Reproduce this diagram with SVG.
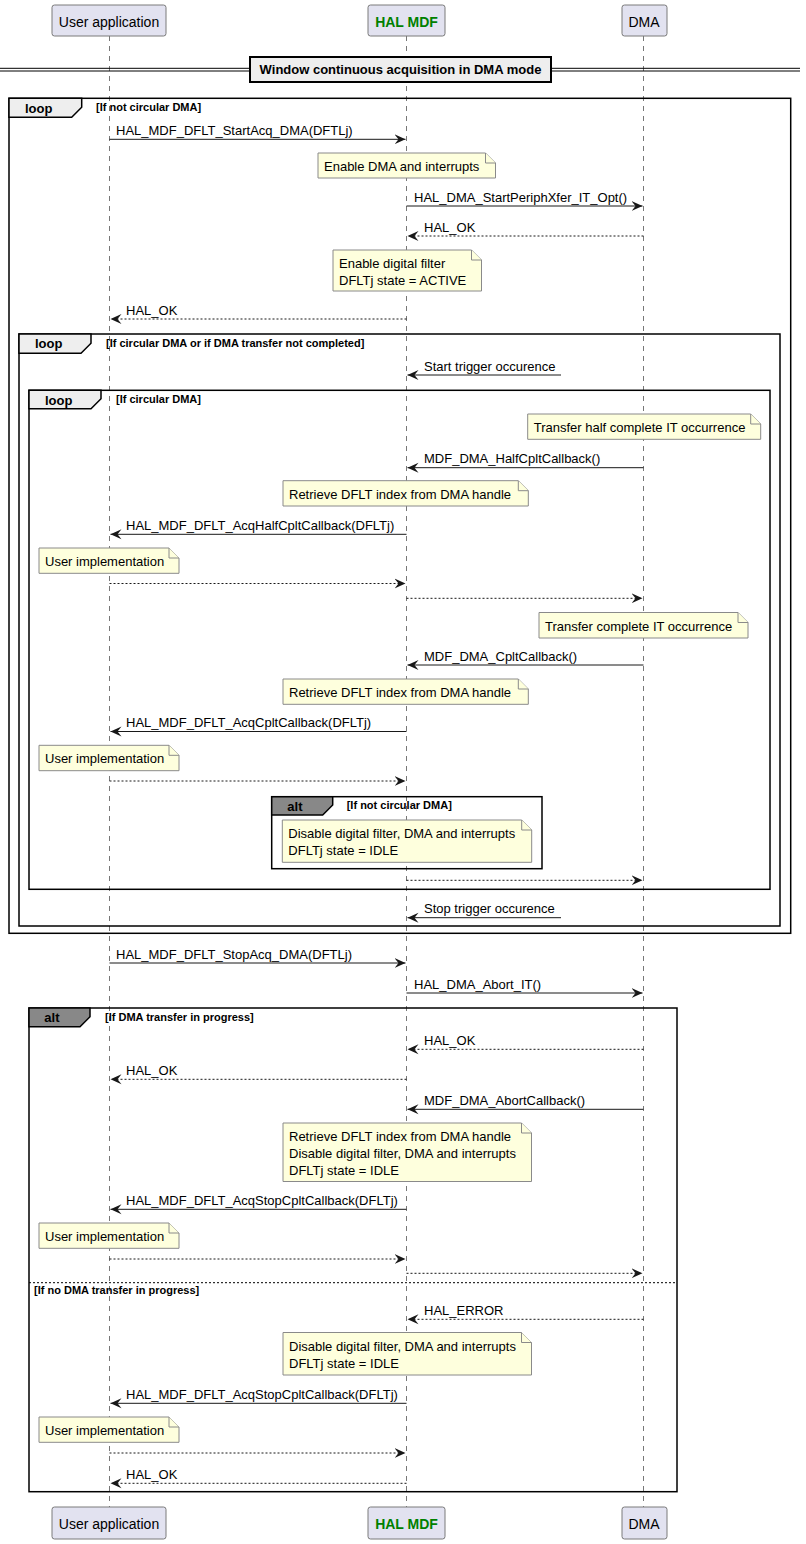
<svg xmlns="http://www.w3.org/2000/svg" width="806" height="1544" viewBox="0 0 806 1544">
<defs>
<style>
text{font-family:"Liberation Sans",Arial,sans-serif;fill:#000}
.pbox{fill:#E2E2F0;stroke:#7a7a7a;stroke-width:1}
.pt{font-size:14px;text-anchor:middle}
.hal{font-weight:bold;fill:#008000}
.life{stroke:#777;stroke-width:1;stroke-dasharray:5,5}
.m{stroke:#181818;stroke-width:1;fill:none}
.d{stroke:#181818;stroke-width:1;fill:none;stroke-dasharray:2,2}
.ml{font-size:13px}
.note{fill:#FEFFDD;stroke:#8a8a8a;stroke-width:1}
.nt{font-size:13px}
.frame{fill:none;stroke:#000;stroke-width:1.5}
.tabl{fill:#EEEEEE;stroke:#000;stroke-width:1.5}
.taba{fill:#888888;stroke:#000;stroke-width:1.5}
.ft{font-size:13px;font-weight:bold}
.fc{font-size:11px;font-weight:bold}
.ah{fill:#181818}
</style>
<marker id="ar" viewBox="0 0 12 12" refX="11" refY="6" markerWidth="12" markerHeight="12" markerUnits="userSpaceOnUse" orient="auto">
<path d="M0,1 L11,6 L0,11 L4,6 Z" class="ah"/>
</marker>
</defs>

<g id="lifelines">
<line class="life" x1="109.5" y1="36" x2="109.5" y2="1507"/>
<line class="life" x1="406.5" y1="36" x2="406.5" y2="1507"/>
<line class="life" x1="643.5" y1="36" x2="643.5" y2="1507"/>
</g>

<g id="p-user-top"><rect class="pbox" x="52" y="5" width="114" height="31" rx="2.5"/><text class="pt" x="109" y="27">User application</text></g>
<g id="p-hal-top"><rect class="pbox" x="368" y="5" width="77" height="31" rx="2.5"/><text class="pt hal" x="406.5" y="27">HAL MDF</text></g>
<g id="p-dma-top"><rect class="pbox" x="622" y="5" width="45" height="31" rx="2.5"/><text class="pt" x="644" y="27">DMA</text></g>
<g id="p-user-bot"><rect class="pbox" x="52" y="1507" width="114" height="32" rx="2.5"/><text class="pt" x="109" y="1529">User application</text></g>
<g id="p-hal-bot"><rect class="pbox" x="368" y="1507" width="77" height="32" rx="2.5"/><text class="pt hal" x="406.5" y="1529">HAL MDF</text></g>
<g id="p-dma-bot"><rect class="pbox" x="622" y="1507" width="45" height="32" rx="2.5"/><text class="pt" x="644" y="1529">DMA</text></g>

<g id="divider">
<line x1="0" y1="68.3" x2="800" y2="68.3" stroke="#000" stroke-width="1"/>
<line x1="0" y1="71" x2="800" y2="71" stroke="#000" stroke-width="1"/>
<rect x="250" y="57" width="301" height="25" fill="#EEEEEE" stroke="#000" stroke-width="2"/>
<text class="ft" x="400.5" y="74" text-anchor="middle" font-size="13.3">Window continuous acquisition in DMA mode</text>
</g>

<g id="frames">
<g id="loop1">
<rect class="frame" x="9" y="98.3" width="781.7" height="835"/>
<path class="tabl" d="M9,98.3 L81.7,98.3 L81.7,107.3 L71.7,117.3 L9,117.3 Z"/>
<text class="ft" x="25" y="112.5">loop</text>
<text class="fc" x="96" y="111">[If not circular DMA]</text>
</g>
<g id="loop2">
<rect class="frame" x="19" y="334" width="761" height="592"/>
<path class="tabl" d="M19,334 L91,334 L91,343.3 L81,353.3 L19,353.3 Z"/>
<text class="ft" x="35" y="348.3">loop</text>
<text class="fc" x="106" y="347">[If circular DMA or if DMA transfer not completed]</text>
</g>
<g id="loop3">
<rect class="frame" x="29" y="390.3" width="741" height="499"/>
<path class="tabl" d="M29,390.3 L101,390.3 L101,398.7 L91,408.7 L29,408.7 Z"/>
<text class="ft" x="45" y="404.5">loop</text>
<text class="fc" x="116" y="403">[If circular DMA]</text>
</g>
<g id="alt1">
<rect class="frame" x="271.7" y="796.7" width="270.3" height="72"/>
<path class="taba" d="M271.7,796.7 L332.7,796.7 L332.7,805 L322.7,815 L271.7,815 Z"/>
<text class="ft" x="287.3" y="810.5">alt</text>
<text class="fc" x="346.7" y="809">[If not circular DMA]</text>
</g>
<g id="alt2">
<rect class="frame" x="29" y="1008" width="648" height="483.7"/>
<path class="taba" d="M29,1008 L90,1008 L90,1016.7 L80,1026.7 L29,1026.7 Z"/>
<text class="ft" x="44.3" y="1022">alt</text>
<text class="fc" x="105" y="1021">[If DMA transfer in progress]</text>
<line x1="29" y1="1282.7" x2="677" y2="1282.7" stroke="#000" stroke-width="1" stroke-dasharray="2,2"/>
<text class="fc" x="34" y="1294">[If no DMA transfer in progress]</text>
</g>
</g>

<g id="notes">
<g id="n1"><path class="note" d="M318,153 L318,178 L495.5,178 L495.5,163 L485.5,153 Z"/><path class="note" d="M485.5,153 L485.5,163 L495.5,163"/><text class="nt" x="324" y="171">Enable DMA and interrupts</text></g>
<g id="n2"><path class="note" d="M333,250 L333,291 L481.5,291 L481.5,260 L471.5,250 Z"/><path class="note" d="M471.5,250 L471.5,260 L481.5,260"/><text class="nt" x="339" y="268">Enable digital filter</text><text class="nt" x="339" y="285">DFLTj state = ACTIVE</text></g>
<g id="n3"><path class="note" d="M527.7,414 L527.7,439.3 L760.7,439.3 L760.7,424 L750.7,414 Z"/><path class="note" d="M750.7,414 L750.7,424 L760.7,424"/><text class="nt" x="533.7" y="432">Transfer half complete IT occurrence</text></g>
<g id="n4"><path class="note" d="M283,480.7 L283,506 L528.3,506 L528.3,490.7 L518.3,480.7 Z"/><path class="note" d="M518.3,480.7 L518.3,490.7 L528.3,490.7"/><text class="nt" x="289" y="498.7">Retrieve DFLT index from DMA handle</text></g>
<g id="n5"><path class="note" d="M39,548 L39,573.3 L179,573.3 L179,558 L169,548 Z"/><path class="note" d="M169,548 L169,558 L179,558"/><text class="nt" x="45" y="566">User implementation</text></g>
<g id="n6"><path class="note" d="M539,612.5 L539,638 L748,638 L748,622.5 L738,612.5 Z"/><path class="note" d="M738,612.5 L738,622.5 L748,622.5"/><text class="nt" x="545" y="630.5">Transfer complete IT occurrence</text></g>
<g id="n7"><path class="note" d="M283,679 L283,704.3 L528.3,704.3 L528.3,689 L518.3,679 Z"/><path class="note" d="M518.3,679 L518.3,689 L528.3,689"/><text class="nt" x="289" y="697">Retrieve DFLT index from DMA handle</text></g>
<g id="n8"><path class="note" d="M39,745.3 L39,770.7 L179,770.7 L179,755.3 L169,745.3 Z"/><path class="note" d="M169,745.3 L169,755.3 L179,755.3"/><text class="nt" x="45" y="763.3">User implementation</text></g>
<g id="n9"><path class="note" d="M282.3,820 L282.3,862.3 L531.7,862.3 L531.7,830 L521.7,820 Z"/><path class="note" d="M521.7,820 L521.7,830 L531.7,830"/><text class="nt" x="288.3" y="838.3">Disable digital filter, DMA and interrupts</text><text class="nt" x="288.3" y="855">DFLTj state = IDLE</text></g>
<g id="n10"><path class="note" d="M283,1123 L283,1181.5 L531.5,1181.5 L531.5,1133 L521.5,1123 Z"/><path class="note" d="M521.5,1123 L521.5,1133 L531.5,1133"/><text class="nt" x="289" y="1141">Retrieve DFLT index from DMA handle</text><text class="nt" x="289" y="1158">Disable digital filter, DMA and interrupts</text><text class="nt" x="289" y="1175">DFLTj state = IDLE</text></g>
<g id="n11"><path class="note" d="M39,1223 L39,1248.3 L179,1248.3 L179,1233 L169,1223 Z"/><path class="note" d="M169,1223 L169,1233 L179,1233"/><text class="nt" x="45" y="1241">User implementation</text></g>
<g id="n12"><path class="note" d="M283,1332.5 L283,1375 L531.5,1375 L531.5,1342.5 L521.5,1332.5 Z"/><path class="note" d="M521.5,1332.5 L521.5,1342.5 L531.5,1342.5"/><text class="nt" x="289" y="1350.5">Disable digital filter, DMA and interrupts</text><text class="nt" x="289" y="1367.5">DFLTj state = IDLE</text></g>
<g id="n13"><path class="note" d="M39,1417 L39,1442.3 L179,1442.3 L179,1427 L169,1417 Z"/><path class="note" d="M169,1417 L169,1427 L179,1427"/><text class="nt" x="45" y="1435">User implementation</text></g>
</g>

<g id="connectors">
<line class="m" marker-end="url(#ar)" x1="109.5" y1="139.3" x2="405.5" y2="139.3"/>
<text class="ml" x="116" y="134.5">HAL_MDF_DFLT_StartAcq_DMA(DFTLj)</text>
<line class="m" marker-end="url(#ar)" x1="406.5" y1="206" x2="642.5" y2="206"/>
<text class="ml" x="414" y="201.5">HAL_DMA_StartPeriphXfer_IT_Opt()</text>
<line class="d" marker-end="url(#ar)" x1="643.5" y1="236" x2="407.5" y2="236"/>
<text class="ml" x="424" y="231.5">HAL_OK</text>
<line class="d" marker-end="url(#ar)" x1="406.5" y1="319" x2="110.5" y2="319"/>
<text class="ml" x="126" y="314.5">HAL_OK</text>
<line class="m" marker-end="url(#ar)" x1="561" y1="375" x2="407.5" y2="375"/>
<text class="ml" x="424" y="370.5">Start trigger occurence</text>
<line class="m" marker-end="url(#ar)" x1="643.5" y1="467.7" x2="407.5" y2="467.7"/>
<text class="ml" x="424" y="463">MDF_DMA_HalfCpltCallback()</text>
<line class="m" marker-end="url(#ar)" x1="406.5" y1="534.3" x2="110.5" y2="534.3"/>
<text class="ml" x="126" y="529.5">HAL_MDF_DFLT_AcqHalfCpltCallback(DFLTj)</text>
<line class="d" marker-end="url(#ar)" x1="109.5" y1="583.5" x2="405.5" y2="583.5"/>
<line class="d" marker-end="url(#ar)" x1="406.5" y1="598.3" x2="642.5" y2="598.3"/>
<line class="m" marker-end="url(#ar)" x1="643.5" y1="665" x2="407.5" y2="665"/>
<text class="ml" x="424" y="660.5">MDF_DMA_CpltCallback()</text>
<line class="m" marker-end="url(#ar)" x1="406.5" y1="731.5" x2="110.5" y2="731.5"/>
<text class="ml" x="126" y="727">HAL_MDF_DFLT_AcqCpltCallback(DFLTj)</text>
<line class="d" marker-end="url(#ar)" x1="109.5" y1="781" x2="405.5" y2="781"/>
<line class="d" marker-end="url(#ar)" x1="406.5" y1="880.3" x2="642.5" y2="880.3"/>
<line class="m" marker-end="url(#ar)" x1="561" y1="917.7" x2="407.5" y2="917.7"/>
<text class="ml" x="424" y="913">Stop trigger occurence</text>
<line class="m" marker-end="url(#ar)" x1="109.5" y1="963" x2="405.5" y2="963"/>
<text class="ml" x="116" y="958.5">HAL_MDF_DFLT_StopAcq_DMA(DFTLj)</text>
<line class="m" marker-end="url(#ar)" x1="406.5" y1="993" x2="642.5" y2="993"/>
<text class="ml" x="414" y="988.5">HAL_DMA_Abort_IT()</text>
<line class="d" marker-end="url(#ar)" x1="643.5" y1="1049.3" x2="407.5" y2="1049.3"/>
<text class="ml" x="424" y="1044.5">HAL_OK</text>
<line class="d" marker-end="url(#ar)" x1="406.5" y1="1079.3" x2="110.5" y2="1079.3"/>
<text class="ml" x="126" y="1074.5">HAL_OK</text>
<line class="m" marker-end="url(#ar)" x1="643.5" y1="1109.3" x2="407.5" y2="1109.3"/>
<text class="ml" x="424" y="1104.5">MDF_DMA_AbortCallback()</text>
<line class="m" marker-end="url(#ar)" x1="406.5" y1="1209.3" x2="110.5" y2="1209.3"/>
<text class="ml" x="126" y="1204.5">HAL_MDF_DFLT_AcqStopCpltCallback(DFLTj)</text>
<line class="d" marker-end="url(#ar)" x1="109.5" y1="1259" x2="405.5" y2="1259"/>
<line class="d" marker-end="url(#ar)" x1="406.5" y1="1273.3" x2="642.5" y2="1273.3"/>
<line class="d" marker-end="url(#ar)" x1="643.5" y1="1319.3" x2="407.5" y2="1319.3"/>
<text class="ml" x="424" y="1314.5">HAL_ERROR</text>
<line class="m" marker-end="url(#ar)" x1="406.5" y1="1403.3" x2="110.5" y2="1403.3"/>
<text class="ml" x="126" y="1398.5">HAL_MDF_DFLT_AcqStopCpltCallback(DFLTj)</text>
<line class="d" marker-end="url(#ar)" x1="109.5" y1="1453" x2="405.5" y2="1453"/>
<line class="d" marker-end="url(#ar)" x1="406.5" y1="1483.3" x2="110.5" y2="1483.3"/>
<text class="ml" x="126" y="1478.5">HAL_OK</text>
</g>
</svg>
